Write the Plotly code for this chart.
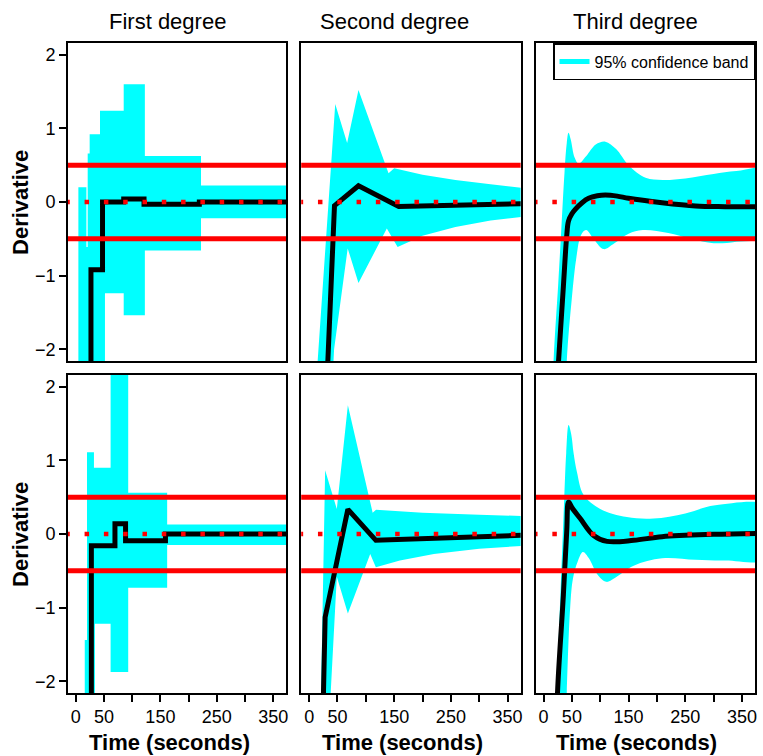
import plotly.graph_objects as go

# ---------------- data ----------------
X_RANGE = [-14, 373]
Y_RANGE = [-2.16, 2.16]
X_TICKS = [0, 50, 100, 150, 200, 250, 300, 350]
X_TICK_TEXT = ["0", "50", "", "150", "", "250", "", "350"]
Y_TICKS = [-2, -1, 0, 1, 2]
COL_TITLES = ["First degree", "Second degree", "Third degree"]
Y_TITLE = "Derivative"
X_TITLE = "Time (seconds)"
LEGEND_LABEL = "95% confidence band"
REF_LEVELS = [0.5, -0.5]
ZERO_LEVEL = 0.0
LINE_SPAN = [-18.5, 400]

# First degree, row 1 (step functions: knots, value on each interval)
fd1_est_knots = [5, 27, 47.5, 85, 121, 219, 400]
fd1_est_vals = [-4, -0.92, 0.0, 0.04, -0.03, 0.0]
fd1_up_knots = [4.7, 18.9, 21.2, 24.7, 43, 85, 122.5, 222, 400]
fd1_up_vals = [0.2, -0.61, 0.66, 0.92, 1.24, 1.60, 0.625, 0.225]
fd1_lo_knots = [4.7, 51.8, 85, 122.5, 222, 400]
fd1_lo_vals = [-4, -1.24, -1.54, -0.66, -0.22]

# First degree, row 2
fd2_est_knots = [5, 27.7, 69.5, 88.3, 159, 400]
fd2_est_vals = [-4, -0.16, 0.14, -0.09, 0.0]
fd2_up_knots = [16, 20, 32.3, 61.8, 93, 162, 400]
fd2_up_vals = [-1.44, 1.11, 0.90, 3.0, 0.56, 0.13]
fd2_lo_knots = [16, 34, 61.8, 93, 162, 400]
fd2_lo_vals = [-4, -1.22, -1.875, -0.73, -0.15]

# Second degree, row 1
sd1_est_t = [25, 44.7, 87, 158, 400]
sd1_est_v = [-3.6, -0.05, 0.22, -0.06, -0.02]
sd1_up_t = [10, 15, 40, 46, 67, 87, 140, 150, 200, 258, 320, 400]
sd1_up_v = [-3.2, -2.16, 0.65, 1.33, 0.80, 1.52, 0.39, 0.46, 0.37, 0.30, 0.24, 0.17]
sd1_lo_t = [36, 44, 68, 87, 137, 156, 200, 258, 320, 400]
sd1_lo_v = [-3.2, -2.0, -0.63, -1.10, -0.36, -0.61, -0.46, -0.34, -0.25, -0.18]

# Second degree, row 2
sd2_est_t = [22, 25.3, 28.2, 68.3, 117.7, 400]
sd2_est_v = [-3.3, -2.15, -1.13, 0.335, -0.086, -0.01]
sd2_up_t = [18, 21, 28.2, 48.8, 68.3, 112, 118, 200, 300, 400]
sd2_up_v = [-3.2, -2.16, 0.865, 0.34, 1.75, 0.29, 0.33, 0.29, 0.26, 0.24]
sd2_lo_t = [33, 38, 48.8, 68.3, 107.7, 117.7, 160, 220, 300, 400]
sd2_lo_v = [-3.2, -2.16, -0.58, -1.08, -0.27, -0.45, -0.36, -0.27, -0.2, -0.15]

# Third degree, row 1
td1_est_t = [20, 26.5, 35, 41, 44, 50, 56, 68, 79.5, 95, 109, 130, 150, 209, 268, 320, 400]
td1_est_v = [-3.0, -2.16, -1.15, -0.45, -0.26, -0.16, -0.10, -0.01, 0.05, 0.085, 0.095, 0.08, 0.05, -0.01, -0.054, -0.063, -0.064]
td1_up_t = [14, 17.7, 26, 31, 37, 41, 44, 48, 55, 62, 75, 92, 109, 128, 150, 180, 210, 250, 300, 340, 400]
td1_up_v = [-3.2, -2.16, -1.1, -0.42, 0.4, 0.8, 0.94, 0.85, 0.6, 0.52, 0.62, 0.78, 0.82, 0.72, 0.5, 0.33, 0.30, 0.32, 0.38, 0.42, 0.44]
td1_lo_t = [36, 41, 50, 58, 66, 75, 90, 106, 125, 150, 175, 220, 260, 300, 340, 400]
td1_lo_v = [-3.4, -2.16, -1.3, -0.75, -0.45, -0.38, -0.52, -0.64, -0.56, -0.43, -0.38, -0.42, -0.5, -0.56, -0.54, -0.44]

# Third degree, row 2
td2_est_t = [22, 24.7, 35, 41, 44.2, 50, 64.8, 88.3, 112, 159, 209, 300, 400]
td2_est_v = [-3.0, -2.15, -0.83, 0.05, 0.435, 0.36, 0.21, -0.02, -0.10, -0.086, -0.036, -0.005, 0.01]
td2_up_t = [20, 23.5, 36.5, 40, 44.2, 49, 53, 59, 70.7, 100, 147, 194, 250, 303, 400]
td2_up_v = [-3.2, -2.16, 0.48, 1.1, 1.48, 1.35, 1.1, 0.84, 0.53, 0.34, 0.23, 0.21, 0.28, 0.39, 0.37]
td2_lo_t = [37, 41, 47, 52, 60, 69.4, 80, 95, 110.7, 125, 159, 209, 268, 320, 400]
td2_lo_v = [-3.2, -2.16, -1.0, -0.6, -0.38, -0.245, -0.33, -0.55, -0.65, -0.6, -0.43, -0.33, -0.35, -0.36, -0.33]

# ---------------- styling / layout ----------------
W, H = 763, 756
COLS_PX = [(68, 287), (302, 522), (537, 757)]
ROWS_PX = [(43, 361), (375, 693)]
TITLE_X_PX = [168, 396, 637]
XTITLE_X_PX = [169.5, 404, 638]
FONT = "Liberation Sans, Arial, Helvetica, sans-serif"
CYAN = "#00FFFF"
RED = "#FF0000"


def steps(knots, vals):
    xs, ys = [], []
    for i, v in enumerate(vals):
        xs += [knots[i], knots[i + 1]]
        ys += [v, v]
    return xs, ys


fig = go.Figure()


def axref(idx):
    return ("x" if idx == 1 else f"x{idx}"), ("y" if idx == 1 else f"y{idx}")


def add_panel(idx, band_up, band_lo, est, shape):
    xa, ya = axref(idx)
    bx = list(band_up[0]) + list(band_lo[0])[::-1]
    by = list(band_up[1]) + list(band_lo[1])[::-1]
    fig.add_trace(go.Scatter(x=bx, y=by, mode="lines", fill="toself",
                             fillcolor=CYAN, line=dict(width=0, color=CYAN, shape=shape),
                             showlegend=False, hoverinfo="skip", xaxis=xa, yaxis=ya))
    fig.add_trace(go.Scatter(x=est[0], y=est[1], mode="lines",
                             line=dict(width=5, color="black", shape=shape),
                             showlegend=False, xaxis=xa, yaxis=ya))
    for lev in REF_LEVELS:
        fig.add_trace(go.Scatter(x=LINE_SPAN, y=[lev, lev], mode="lines",
                                 line=dict(width=5, color=RED),
                                 showlegend=False, hoverinfo="skip", xaxis=xa, yaxis=ya))
    fig.add_trace(go.Scatter(x=LINE_SPAN, y=[ZERO_LEVEL, ZERO_LEVEL], mode="lines",
                             line=dict(width=4.5, color=RED, dash="4.5px,14.8px"),
                             showlegend=False, hoverinfo="skip", xaxis=xa, yaxis=ya))


add_panel(1, steps(fd1_up_knots, fd1_up_vals), steps(fd1_lo_knots, fd1_lo_vals),
          steps(fd1_est_knots, fd1_est_vals), "linear")
add_panel(2, (sd1_up_t, sd1_up_v), (sd1_lo_t, sd1_lo_v), (sd1_est_t, sd1_est_v), "linear")
add_panel(3, (td1_up_t, td1_up_v), (td1_lo_t, td1_lo_v), (td1_est_t, td1_est_v), "spline")
add_panel(4, steps(fd2_up_knots, fd2_up_vals), steps(fd2_lo_knots, fd2_lo_vals),
          steps(fd2_est_knots, fd2_est_vals), "linear")
add_panel(5, (sd2_up_t, sd2_up_v), (sd2_lo_t, sd2_lo_v), (sd2_est_t, sd2_est_v), "linear")
add_panel(6, (td2_up_t, td2_up_v), (td2_lo_t, td2_lo_v), (td2_est_t, td2_est_v), "spline")

# legend entry
fig.add_trace(go.Scatter(x=[None], y=[None], mode="lines", name=LEGEND_LABEL,
                         line=dict(width=5, color=CYAN), showlegend=True,
                         xaxis="x3", yaxis="y3"))

layout = dict(
    width=W, height=H, margin=dict(l=0, r=0, t=0, b=0),
    paper_bgcolor="white", plot_bgcolor="white",
    font=dict(family=FONT, color="black"),
    showlegend=True,
    legend=dict(x=COLS_PX[2][1] / W, xanchor="right", y=1 - ROWS_PX[0][0] / H, yanchor="top",
                bordercolor="black", borderwidth=1.5, bgcolor="white",
                font=dict(size=16, family=FONT), itemwidth=30),
)

annotations = []
for r in range(2):
    for c in range(3):
        idx = r * 3 + c + 1
        xkey = "xaxis" if idx == 1 else f"xaxis{idx}"
        ykey = "yaxis" if idx == 1 else f"yaxis{idx}"
        bottom = r == 1
        left = c == 0
        layout[xkey] = dict(
            domain=[COLS_PX[c][0] / W, COLS_PX[c][1] / W],
            anchor=axref(idx)[1], range=X_RANGE, showgrid=False, zeroline=False,
            showline=True, mirror=True, linecolor="black", linewidth=1.5,
            ticks="outside" if bottom else "", ticklen=7, tickwidth=1.5, tickcolor="black",
            tickvals=X_TICKS, ticktext=X_TICK_TEXT, showticklabels=bottom,
            tickfont=dict(size=18, family=FONT, color="black"),
        )
        layout[ykey] = dict(
            domain=[1 - ROWS_PX[r][1] / H, 1 - ROWS_PX[r][0] / H],
            anchor=axref(idx)[0], range=Y_RANGE, showgrid=False, zeroline=False,
            showline=True, mirror=True, linecolor="black", linewidth=1.5,
            ticks="outside" if left else "", ticklen=7, tickwidth=1.5, tickcolor="black",
            tickvals=Y_TICKS, showticklabels=left,
            tickfont=dict(size=18, family=FONT, color="black"),
        )

for c in range(3):
    annotations.append(dict(text=COL_TITLES[c], x=TITLE_X_PX[c] / W, y=1 - 22 / H,
                            xref="paper", yref="paper", showarrow=False,
                            xanchor="center", yanchor="middle",
                            font=dict(size=22, family=FONT)))
    annotations.append(dict(text=f"<b>{X_TITLE}</b>", x=XTITLE_X_PX[c] / W, y=1 - 742 / H,
                            xref="paper", yref="paper", showarrow=False,
                            xanchor="center", yanchor="middle",
                            font=dict(size=22, family=FONT)))
for r in range(2):
    yc = (ROWS_PX[r][0] + ROWS_PX[r][1]) / 2
    annotations.append(dict(text=f"<b>{Y_TITLE}</b>", x=20 / W, y=1 - yc / H,
                            xref="paper", yref="paper", showarrow=False, textangle=-90,
                            xanchor="center", yanchor="middle",
                            font=dict(size=22, family=FONT)))
layout["annotations"] = annotations

fig.update_layout(**layout)
fig.write_html("out.html")
